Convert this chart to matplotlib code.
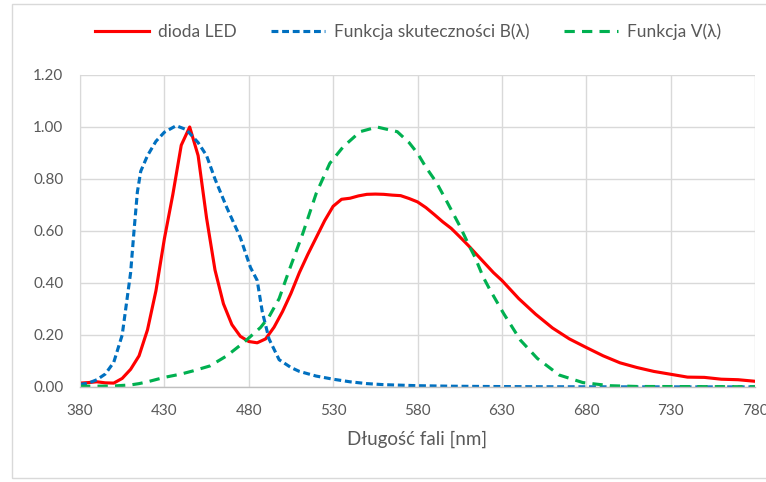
import matplotlib.pyplot as plt
from matplotlib.patches import Rectangle

# wavelengths [nm] and relative values
wl_led = [380, 385, 390, 395, 400, 405, 410, 415, 420, 425, 430, 435, 440, 445,
          450, 455, 460, 465, 470, 475, 480, 485, 490, 495, 500, 505, 510, 515,
          520, 525, 530, 535, 540, 545, 550, 555, 560, 565, 570, 575, 580, 585,
          590, 595, 600, 605, 610, 615, 620, 625, 630, 640, 650, 660, 670, 680,
          690, 700, 710, 720, 730, 740, 750, 760, 770, 780]
led = [0.015, 0.017, 0.020, 0.016, 0.015, 0.033, 0.068, 0.12, 0.22, 0.37, 0.57,
       0.74, 0.93, 1.00, 0.89, 0.65, 0.45, 0.32, 0.24, 0.195, 0.175, 0.17,
       0.185, 0.23, 0.29, 0.36, 0.44, 0.51, 0.575, 0.64, 0.695, 0.722, 0.726,
       0.735, 0.741, 0.742, 0.741, 0.738, 0.736, 0.725, 0.712, 0.69, 0.663,
       0.635, 0.61, 0.578, 0.545, 0.51, 0.475, 0.44, 0.41, 0.34, 0.28, 0.227,
       0.185, 0.152, 0.12, 0.093, 0.075, 0.06, 0.049, 0.038, 0.037, 0.03,
       0.028, 0.022]

wl_b = [380, 385, 390, 395, 400, 405, 410, 412, 414, 416, 420, 425, 430, 437,
        443, 450, 455, 460, 467, 475, 481, 485, 488, 492, 498, 505, 510, 520,
        530, 540, 550, 560, 570, 580, 600, 620, 650, 700, 780]
b_func = [0.01, 0.015, 0.028, 0.05, 0.095, 0.20, 0.44, 0.60, 0.75, 0.83, 0.89,
          0.945, 0.98, 1.005, 0.99, 0.94, 0.89, 0.80, 0.69, 0.575, 0.46, 0.41,
          0.29, 0.185, 0.105, 0.075, 0.06, 0.042, 0.03, 0.02, 0.013, 0.009,
          0.007, 0.005, 0.003, 0.002, 0.001, 0.0005, 0.0003]

wl_v = [380, 390, 400, 410, 415, 420, 430, 440, 447, 457, 467, 477, 487, 492,
        498, 504, 512, 520, 528, 536, 546, 556, 568, 575, 580, 585, 591, 597,
        605, 611, 614, 619, 623, 631, 641, 651, 664, 678, 694, 710, 780]
v_func = [0.003, 0.003, 0.004, 0.008, 0.013, 0.02, 0.037, 0.05, 0.062, 0.081,
          0.12, 0.171, 0.229, 0.27, 0.34, 0.45, 0.59, 0.745, 0.86, 0.924, 0.982,
          1.0, 0.982, 0.94, 0.899, 0.845, 0.789, 0.718, 0.62, 0.538, 0.50,
          0.422, 0.373, 0.283, 0.18, 0.11, 0.046, 0.017, 0.005, 0.002, 0.001]

x_ticks = [380, 430, 480, 530, 580, 630, 680, 730, 780]
y_ticks = [0.0, 0.2, 0.4, 0.6, 0.8, 1.0, 1.2]

plt.rcParams['font.family'] = ['Lato', 'DejaVu Sans']

fig = plt.figure(figsize=(7.66, 4.82), dpi=100)
# chart-area border
fig.patches.append(Rectangle((12 / 766, 4 / 482), 0.99, 474 / 482,
                             transform=fig.transFigure, fill=False,
                             edgecolor='#d9d9d9', linewidth=1))
ax = fig.add_axes([80 / 766, 1 - 387 / 482, 675 / 766, 312 / 482])

ax.plot(wl_led, led, color='#ff0000', linewidth=2.25, label='dioda LED',
        solid_joinstyle='round')
ax.plot(wl_b, b_func, color='#0070c0', linewidth=2.25, dashes=(2.2, 1.2),
        label='Funkcja skuteczności B(λ)')
ax.plot(wl_v, v_func, color='#00b050', linewidth=2.25, dashes=(3.3, 2.3),
        label='Funkcja V(λ)')

ax.set_xlim(380, 780)
ax.set_ylim(0, 1.2)
ax.set_xticks(x_ticks)
ax.set_yticks(y_ticks)
ax.set_yticklabels(['%.2f' % v for v in y_ticks])
ax.tick_params(length=0, labelsize=11, colors='#595959', pad=12)
ax.grid(True, color='#d9d9d9', linewidth=1)
ax.set_axisbelow(True)
for s in ['top', 'right']:
    ax.spines[s].set_visible(False)
ax.spines['left'].set_color('#d9d9d9')
ax.spines['bottom'].set_color('#bfbfbf')
ax.spines['bottom'].set_linewidth(1)

ax.set_xlabel('Długość fali [nm]', fontsize=13.5, color='#595959', labelpad=9)

fig.legend(loc='center', bbox_to_anchor=(408 / 766, 1 - 32 / 482), ncol=3,
           frameon=False, fontsize=12.5, handlelength=3.1, handletextpad=0.5,
           columnspacing=2.0, labelcolor='#595959')

fig.savefig('out.png', dpi=100)
